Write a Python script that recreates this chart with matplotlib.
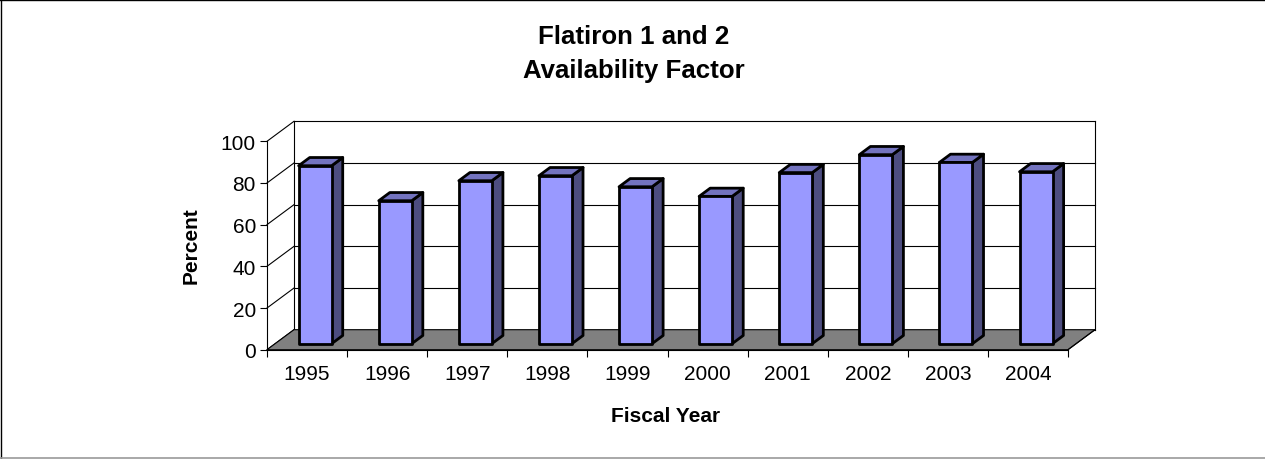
import matplotlib
matplotlib.use("Agg")
import matplotlib.pyplot as plt
from matplotlib.patches import Polygon
from matplotlib.lines import Line2D

# data
years = ["1995", "1996", "1997", "1998", "1999", "2000", "2001", "2002", "2003", "2004"]
availability = [85.4, 68.6, 78.2, 80.6, 75.3, 70.7, 82.1, 90.7, 87.0, 82.5]
y_ticks = [0, 20, 40, 60, 80, 100]

plt.rcParams['font.family'] = ['Liberation Sans', 'DejaVu Sans']

W, H = 1265, 460
fig = plt.figure(figsize=(W / 100, H / 100), dpi=100)
fig.patch.set_facecolor('white')

# front plane of the 3D box, in pixels
x0, x1 = 267, 1068
y0, y1 = 350.7, 142.3
ax = fig.add_axes([x0 / W, 1 - y0 / H, (x1 - x0) / W, (y0 - y1) / H])
ax.set_xlim(0, len(years))
ax.set_ylim(0, 100)
ax.patch.set_visible(False)

# depth offset of the box (back wall), in data units
DX = 27 / ((x1 - x0) / len(years))
DY = 20 / ((y0 - y1) / 100)
n = len(years)

# left wall diagonals and back wall gridlines
for v in y_ticks:
    ax.add_line(Line2D([0, DX], [v, v + DY], color='black', lw=0.8, clip_on=False, zorder=1))
    ax.add_line(Line2D([DX, n + DX], [v + DY, v + DY], color='black', lw=0.8, clip_on=False, zorder=1))
ax.add_line(Line2D([DX, DX], [DY, 100 + DY], color='black', lw=0.8, clip_on=False, zorder=1))
ax.add_line(Line2D([n + DX, n + DX], [DY, 100 + DY], color='black', lw=0.8, clip_on=False, zorder=1))

# floor
floor = Polygon([(0, 0), (n, 0), (n + DX, DY), (DX, DY)], closed=True,
                facecolor='#808080', edgecolor='black', lw=0.8, clip_on=False, zorder=2)
ax.add_patch(floor)

# 3D bars
hw = 0.206
f0, f1 = 0.30, 0.71
front_c, side_c, top_c = '#9999FF', '#4D4D80', '#7373BF'
for i, v in enumerate(availability):
    cx = i + 0.5
    ax0, ay0 = f0 * DX, f0 * DY
    ax1, ay1 = f1 * DX, f1 * DY
    L, R = cx - hw, cx + hw
    front = [(L + ax0, ay0), (R + ax0, ay0), (R + ax0, v + ay0), (L + ax0, v + ay0)]
    side = [(R + ax0, ay0), (R + ax1, ay1), (R + ax1, v + ay1), (R + ax0, v + ay0)]
    top = [(L + ax0, v + ay0), (R + ax0, v + ay0), (R + ax1, v + ay1), (L + ax1, v + ay1)]
    for pts, c in ((side, side_c), (top, top_c), (front, front_c)):
        ax.add_patch(Polygon(pts, closed=True, facecolor=c, edgecolor='black',
                             lw=2.0, joinstyle='round', clip_on=False, zorder=3))

# right edge of floor
ax.add_line(Line2D([n, n + DX], [0, DY], color='black', lw=0.8, clip_on=False, zorder=2))

for s in ('top', 'right'):
    ax.spines[s].set_visible(False)
for s in ('left', 'bottom'):
    ax.spines[s].set_linewidth(0.8)
    ax.spines[s].set_zorder(4)

ax.set_xticks([i + 0.5 for i in range(n)])
ax.set_xticklabels(years, fontsize=15)
ax.set_xticks(range(n + 1), minor=True)
ax.tick_params(axis='x', which='major', length=0, pad=10)
ax.tick_params(axis='x', which='minor', length=5, width=0.8, direction='out')
ax.set_yticks(y_ticks)
ax.set_yticklabels([str(t) for t in y_ticks], fontsize=15)
ax.tick_params(axis='y', length=5, width=0.8, direction='out', pad=3)

# titles
fig.text(634 / W, 1 - 44 / H, "Flatiron 1 and 2", ha='center', va='baseline',
         fontsize=18.6, fontweight='bold')
fig.text(634 / W, 1 - 78 / H, "Availability Factor", ha='center', va='baseline',
         fontsize=18.6, fontweight='bold')
fig.text(666 / W, 1 - 422 / H, "Fiscal Year", ha='center', va='baseline',
         fontsize=15, fontweight='bold')
fig.text(191 / W, 1 - 246 / H, "Percent", ha='center', va='center', rotation=90,
         fontsize=15, fontweight='bold')

# outer chart border
fig.add_artist(Line2D([0, 1], [1 - 0.5 / H, 1 - 0.5 / H], color='black', lw=1, transform=fig.transFigure))
fig.add_artist(Line2D([0.5 / W, 0.5 / W], [0, 1], color='black', lw=1, transform=fig.transFigure))
fig.add_artist(Line2D([0, 1], [1.2 / H, 1.2 / H], color='#999999', lw=1.2, transform=fig.transFigure))

fig.savefig('out.png', dpi=100)
